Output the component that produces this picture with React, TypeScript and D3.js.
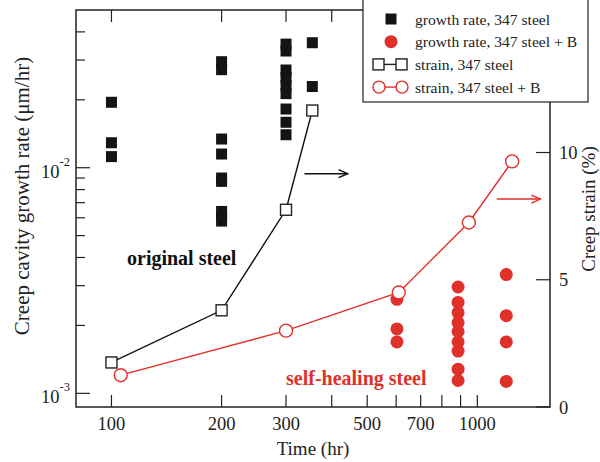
import * as d3 from "d3";

// growth rate, 347 steel (um/hr)
const steelRateTimes = [100, 100, 100, 200, 200, 200, 200, 200, 200, 200, 200, 200, 300, 300, 300, 300, 300, 300, 300, 300, 300, 354, 354];
const steelRates = [0.0195, 0.0129, 0.0112, 0.0295, 0.0272, 0.0134, 0.0115, 0.009, 0.0087, 0.0064, 0.0061, 0.0058, 0.0353, 0.0329, 0.0271, 0.0251, 0.0231, 0.0213, 0.0182, 0.0159, 0.014, 0.0358, 0.0229];

// growth rate, 347 steel + B
const boronRateTimes = [603, 603, 603, 886, 886, 886, 886, 886, 886, 886, 886, 886, 1200, 1200, 1200, 1200];
const boronRates = [0.00261, 0.00193, 0.00169, 0.00296, 0.00253, 0.00228, 0.00206, 0.00188, 0.00169, 0.00154, 0.00128, 0.00114, 0.00336, 0.00221, 0.00169, 0.00113];

// creep strain (%)
const steelStrainTimes = [100, 200, 300, 354];
const steelStrain = [1.75, 3.8, 7.75, 11.65];
const boronStrainTimes = [106, 300, 610, 948, 1245];
const boronStrain = [1.25, 3.0, 4.5, 7.25, 9.65];

const xTicks = [100, 200, 300, 400, 500, 600, 700, 800, 900, 1000];
const xLabels = [100, 200, 300, 500, 700, 1000];
const rateMajor = [0.001, 0.01];
const rateMinor = [0.002, 0.003, 0.004, 0.005, 0.006, 0.007, 0.008, 0.009, 0.02, 0.03, 0.04];
const rateLabels = ["-3", "-2"];
const strainTicks = [0, 5, 10];

const legendItems = ["growth rate, 347 steel", "growth rate, 347 steel + B", "strain, 347 steel", "strain, 347 steel + B"];

const RED = "#e0302a";
const AX = "#222";
const FONT = "'Liberation Serif', 'Times New Roman', serif";

const W = 600;
const H = 462;
const L = 76, R = 550, T = 10, B = 407;

const App = () => {
  const x = d3.scaleLog().domain([80, 1580]).range([L, R]);
  const yRate = d3.scaleLog().domain([0.00087, 0.05]).range([B, T]);
  const yStrain = d3.scaleLinear().domain([0, 15.6]).range([B, T]);

  const steelLine = d3.line<number>().x((_, i) => x(steelStrainTimes[i])).y((d) => yStrain(d));
  const boronLine = d3.line<number>().x((_, i) => x(boronStrainTimes[i])).y((d) => yStrain(d));

  const sq = 11;
  const r = 6.5;

  const arrow = (x1: number, x2: number, y: number, color: string) => (
    <g stroke={color} strokeWidth={1.5} fill="none">
      <line x1={x1} x2={x2} y1={y} y2={y} />
      <polyline points={`${x2 - 9},${y - 4} ${x2},${y} ${x2 - 9},${y + 4}`} />
    </g>
  );

  return (
    <div style={{ position: "absolute", left: 0, top: 0 }}>
      <svg width={W} height={H} style={{ display: "block", background: "#fff" }} fontFamily={FONT}>
        {/* frame */}
        <rect x={L} y={T} width={R - L} height={B - T} fill="none" stroke={AX} strokeWidth={1.5} />

        {/* x ticks top and bottom */}
        {xTicks.map((t) => (
          <g key={t} stroke={AX} strokeWidth={1.2}>
            <line x1={x(t)} x2={x(t)} y1={B} y2={B - 12} />
            <line x1={x(t)} x2={x(t)} y1={T} y2={T + 12} />
          </g>
        ))}
        {xLabels.map((t) => (
          <text key={t} x={x(t)} y={430} fontSize={18.5} textAnchor="middle" fill="#222">{t}</text>
        ))}

        {/* left log axis */}
        {rateMajor.map((t) => (
          <line key={t} x1={L} x2={L + 14} y1={yRate(t)} y2={yRate(t)} stroke={AX} strokeWidth={1.2} />
        ))}
        {rateMinor.map((t) => (
          <line key={t} x1={L} x2={L + 9} y1={yRate(t)} y2={yRate(t)} stroke={AX} strokeWidth={1.2} />
        ))}
        {rateMajor.map((t, i) => (
          <text key={t} x={70} y={yRate(t) + 10} fontSize={18.5} textAnchor="end" fill="#222">
            10<tspan fontSize={12.5} dy={-12}>{rateLabels[i]}</tspan>
          </text>
        ))}

        {/* right strain axis */}
        {strainTicks.map((t) => (
          <g key={t}>
            <line x1={R - 14} x2={R} y1={yStrain(t)} y2={yStrain(t)} stroke={AX} strokeWidth={1.2} />
            <text x={559} y={yStrain(t) + 6.5} fontSize={18.5} fill="#222">{t}</text>
          </g>
        ))}

        {/* axis titles */}
        <text transform={`translate(29,196) rotate(-90)`} fontSize={21} textAnchor="middle" fill="#222">
          Creep cavity growth rate (μm/hr)
        </text>
        <text transform={`translate(595,209) rotate(-90)`} fontSize={19} textAnchor="middle" fill="#222">
          Creep strain (%)
        </text>
        <text x={(L + R) / 2} y={455} fontSize={19} textAnchor="middle" fill="#222">Time (hr)</text>

        {/* strain lines */}
        <path d={steelLine(steelStrain) ?? ""} fill="none" stroke="#111" strokeWidth={1.4} />
        <path d={boronLine(boronStrain) ?? ""} fill="none" stroke={RED} strokeWidth={1.4} />

        {/* growth rate points */}
        {steelRates.map((v, i) => (
          <rect key={"s" + i} x={x(steelRateTimes[i]) - sq / 2} y={yRate(v) - sq / 2} width={sq} height={sq} fill="#141414" />
        ))}
        {boronRates.map((v, i) => (
          <circle key={"b" + i} cx={x(boronRateTimes[i])} cy={yRate(v)} r={r} fill={RED} />
        ))}

        {/* strain markers */}
        {steelStrain.map((v, i) => (
          <rect key={"ss" + i} x={x(steelStrainTimes[i]) - sq / 2} y={yStrain(v) - sq / 2} width={sq} height={sq} fill="#fff" stroke="#222" strokeWidth={1.4} />
        ))}
        {boronStrain.map((v, i) => (
          <circle key={"bs" + i} cx={x(boronStrainTimes[i])} cy={yStrain(v)} r={r} fill="#fff" stroke={RED} strokeWidth={1.4} />
        ))}

        {/* annotations */}
        {arrow(x(337), x(442), yStrain(9.17), "#111")}
        {arrow(x(1130), x(1487), yStrain(8.17), RED)}
        <text x={127} y={265} fontSize={20} fontWeight="bold" fill="#111">original steel</text>
        <text x={286} y={385} fontSize={20} fontWeight="bold" fill={RED}>self-healing steel</text>

        {/* legend */}
        <g>
          <rect x={363} y={-1} width={225} height={103} fill="#fff" stroke="#222" strokeWidth={1.2} />
          {legendItems.map((label, i) => {
            const cy = 19 + i * 22.7;
            return (
              <g key={label}>
                {i === 0 && <rect x={391 - sq / 2} y={cy - sq / 2} width={sq} height={sq} fill="#141414" />}
                {i === 1 && <circle cx={391} cy={cy} r={r} fill={RED} />}
                {i === 2 && (
                  <g stroke="#222" strokeWidth={1.4} fill="#fff">
                    <line x1={378} x2={402} y1={cy} y2={cy} />
                    <rect x={373} y={cy - 5.5} width={11} height={11} />
                    <rect x={396} y={cy - 5.5} width={11} height={11} />
                  </g>
                )}
                {i === 3 && (
                  <g stroke={RED} strokeWidth={1.4} fill="#fff">
                    <line x1={378} x2={402} y1={cy} y2={cy} />
                    <circle cx={379} cy={cy} r={6} />
                    <circle cx={402} cy={cy} r={6} />
                  </g>
                )}
                <text x={415} y={cy + 5.5} fontSize={15.6} fill="#222">{label}</text>
              </g>
            );
          })}
        </g>
      </svg>
    </div>
  );
};

export default App;
